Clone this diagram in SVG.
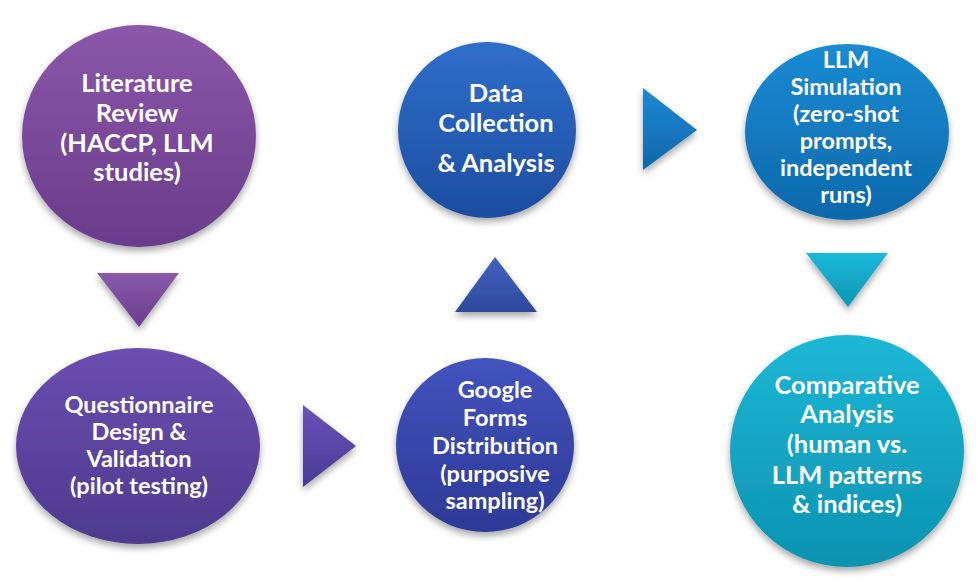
<svg xmlns="http://www.w3.org/2000/svg" width="978" height="582" viewBox="0 0 978 582">
<defs>
<filter id="sh" x="-20%" y="-20%" width="140%" height="150%">
<feDropShadow dx="0" dy="4" stdDeviation="3.5" flood-color="#000" flood-opacity="0.35"/>
</filter>
<linearGradient id="g1" x1="0" y1="0" x2="0" y2="1"><stop offset="0" stop-color="#8b57a9"/><stop offset="1" stop-color="#6a3c8b"/></linearGradient>
<linearGradient id="g2" x1="0" y1="0" x2="0" y2="1"><stop offset="0" stop-color="#6b4eb0"/><stop offset="1" stop-color="#4d3a8e"/></linearGradient>
<linearGradient id="g3" x1="0" y1="0" x2="0" y2="1"><stop offset="0" stop-color="#2f6fcb"/><stop offset="1" stop-color="#1c4d9f"/></linearGradient>
<linearGradient id="g4" x1="0" y1="0" x2="0" y2="1"><stop offset="0" stop-color="#4353bd"/><stop offset="1" stop-color="#2d3996"/></linearGradient>
<linearGradient id="g5" x1="0" y1="0" x2="0" y2="1"><stop offset="0" stop-color="#1a8bd3"/><stop offset="1" stop-color="#0d68aa"/></linearGradient>
<linearGradient id="g6" x1="0" y1="0" x2="0" y2="1"><stop offset="0" stop-color="#1db7d6"/><stop offset="1" stop-color="#0c93b0"/></linearGradient>
<linearGradient id="t1" x1="0" y1="0" x2="0" y2="1"><stop offset="0" stop-color="#8a5aac"/><stop offset="1" stop-color="#6a3d8c"/></linearGradient>
<linearGradient id="t2" x1="0" y1="0" x2="0" y2="1"><stop offset="0" stop-color="#6a53b8"/><stop offset="1" stop-color="#483a94"/></linearGradient>
<linearGradient id="t3" x1="0" y1="0" x2="0" y2="1"><stop offset="0" stop-color="#4363bf"/><stop offset="1" stop-color="#2c489c"/></linearGradient>
<linearGradient id="t4" x1="0" y1="0" x2="0" y2="1"><stop offset="0" stop-color="#1d8ad4"/><stop offset="1" stop-color="#0e66ab"/></linearGradient>
<linearGradient id="t5" x1="0" y1="0" x2="0" y2="1"><stop offset="0" stop-color="#1bbad8"/><stop offset="1" stop-color="#0d95b2"/></linearGradient>
</defs>
<style>
text{font-family:Lato,"Open Sans","Liberation Sans",sans-serif;font-weight:bold;fill:#fff;text-anchor:middle}
.a{font-size:25.5px}
.b{font-size:23.5px}
.c{font-size:23.5px}
</style>
<rect width="978" height="582" fill="#fff"/>
<g id="connectors" filter="url(#sh)">
<polygon points="97,273 179,273 139,327" fill="url(#t1)"/>
<polygon points="303,405 303,487 356,446" fill="url(#t2)"/>
<polygon points="495,257 455,312 537,312" fill="url(#t3)"/>
<polygon points="643,88 643,170 697,130" fill="url(#t4)"/>
<polygon points="806,253 888,253 848,307" fill="url(#t5)"/>
</g>
<g id="n1">
<ellipse cx="139" cy="136" rx="117" ry="111" fill="url(#g1)" filter="url(#sh)"/>
<text class="a" x="137" y="92">Literature</text>
<text class="a" x="137" y="122">Review</text>
<text class="a" x="137" y="152">(HACCP, LLM</text>
<text class="a" x="137" y="181">studies)</text>
</g>
<g id="n2">
<ellipse cx="138" cy="446" rx="122" ry="98" fill="url(#g2)" filter="url(#sh)"/>
<text class="b" x="139" y="413">Questionnaire</text>
<text class="b" x="139" y="440">Design &amp;</text>
<text class="b" x="139" y="467">Validation</text>
<text class="b" x="139" y="494">(pilot testing)</text>
</g>
<g id="n3">
<ellipse cx="487" cy="130" rx="89" ry="88" fill="url(#g3)" filter="url(#sh)"/>
<text class="a" x="496" y="102">Data</text>
<text class="a" x="496" y="132">Collection</text>
<text class="a" x="496" y="172">&amp; Analysis</text>
</g>
<g id="n4">
<ellipse cx="485" cy="445" rx="89" ry="87" fill="url(#g4)" filter="url(#sh)"/>
<text class="b" x="495" y="398">Google</text>
<text class="b" x="495" y="426">Forms</text>
<text class="b" x="495" y="454">Distribution</text>
<text class="b" x="495" y="482">(purposive</text>
<text class="b" x="495" y="509">sampling)</text>
</g>
<g id="n5">
<ellipse cx="847" cy="132" rx="102" ry="88" fill="url(#g5)" filter="url(#sh)"/>
<text class="c" x="846" y="68">LLM</text>
<text class="c" x="846" y="95">Simulation</text>
<text class="c" x="846" y="122">(zero-shot</text>
<text class="c" x="846" y="149">prompts,</text>
<text class="c" x="846" y="176">independent</text>
<text class="c" x="846" y="203">runs)</text>
</g>
<g id="n6">
<ellipse cx="847" cy="451" rx="117" ry="116" fill="url(#g6)" filter="url(#sh)"/>
<text class="a" x="847" y="394">Comparative</text>
<text class="a" x="847" y="423">Analysis</text>
<text class="a" x="847" y="453">(human vs.</text>
<text class="a" x="847" y="484">LLM patterns</text>
<text class="a" x="847" y="513">&amp; indices)</text>
</g>
</svg>
